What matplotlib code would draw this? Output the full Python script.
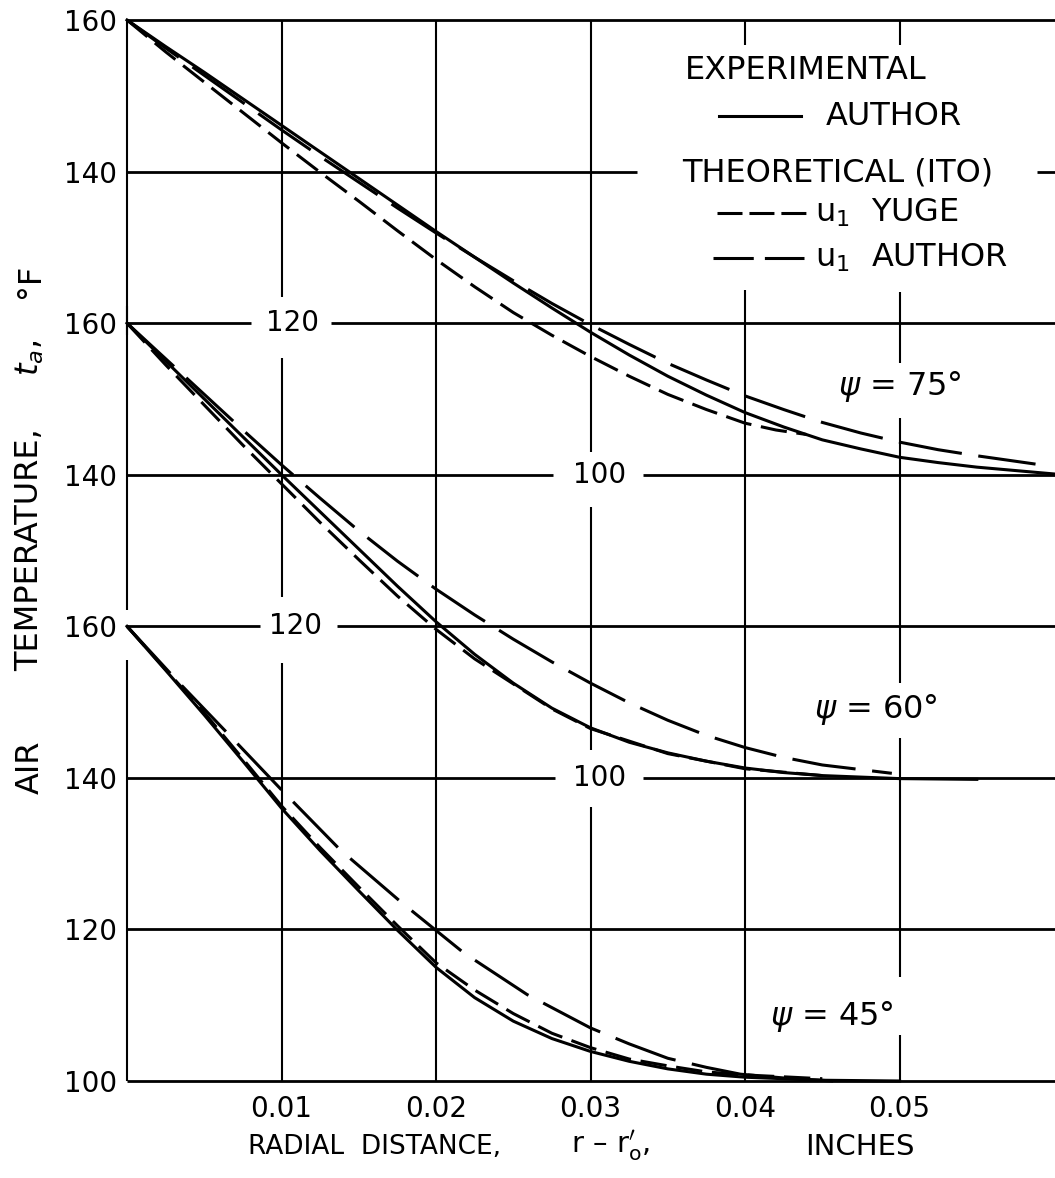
import matplotlib.pyplot as plt

plt.rcParams['font.family'] = 'DejaVu Sans'
plt.rcParams['lines.scale_dashes'] = False

# the three cases share one grid; each is shifted up by 40 F
offsets = {45: 0, 60: 40, 75: 80}

# psi = 75 deg
r75_exp = [0, .0025, .005, .0075, .01, .0125, .015, .0175, .02, .0225, .025, .0275,
           .03, .0325, .035, .0375, .04, .0425, .045, .0475, .05, .0525, .055, .06]
t75_exp = [160, 156.5, 153.1, 149.6, 146.1, 142.6, 139.1, 135.6, 132.1, 128.7, 125.3, 122.0,
           118.8, 115.8, 113.0, 110.5, 108.2, 106.3, 104.6, 103.4, 102.3, 101.6, 101.0, 100.1]
r75_yuge = [0, .0025, .005, .0075, .01, .0125, .015, .0175, .02, .0225, .025, .0275,
            .03, .0325, .035, .0375, .04, .042, .044]
t75_yuge = [160, 155.8, 151.8, 147.8, 143.8, 139.9, 136.1, 132.2, 128.4, 124.8, 121.4, 118.4,
            115.6, 113.0, 110.6, 108.6, 106.8, 105.9, 105.3]
r75_auth = [0, .0025, .005, .0075, .01, .0125, .015, .0175, .02, .0225, .025, .0275,
            .03, .0325, .035, .0375, .04, .0425, .045, .0475, .05, .0525, .055, .0588]
t75_auth = [160, 156.3, 152.7, 149.1, 145.5, 142.0, 138.6, 135.2, 131.9, 128.7, 125.6, 122.6,
            119.8, 117.2, 114.7, 112.5, 110.4, 108.6, 106.9, 105.5, 104.3, 103.3, 102.5, 101.4]

# psi = 60 deg
r60_exp = [0, .0025, .005, .0075, .01, .0125, .015, .0175, .02, .0225, .025, .0275,
           .03, .0325, .035, .0375, .04, .0425, .045, .05, .055]
t60_exp = [160, 155.0, 150.0, 145.0, 140.0, 135.1, 130.2, 125.3, 120.6, 116.3, 112.5, 109.2,
           106.6, 104.7, 103.3, 102.2, 101.3, 100.7, 100.3, 99.9, 99.8]
r60_yuge = [0, .0025, .005, .0075, .01, .0125, .015, .0175, .02, .0225, .025, .0275,
            .03, .035, .04, .045]
t60_yuge = [160, 154.5, 149.2, 143.9, 138.8, 133.7, 128.8, 124.0, 119.6, 115.7, 112.4, 109.1,
            106.5, 103.2, 101.2, 100.3]
r60_auth = [0, .0025, .005, .0075, .01, .0125, .015, .0175, .02, .0225, .025, .0275,
            .03, .0325, .035, .0375, .04, .0425, .045, .0495]
t60_auth = [160, 155.3, 150.6, 145.9, 141.3, 136.9, 132.6, 128.6, 124.9, 121.5, 118.3, 115.3,
            112.5, 109.9, 107.6, 105.6, 104.0, 102.7, 101.7, 100.6]

# psi = 45 deg
r45_exp = [0, .0025, .005, .0075, .01, .0125, .015, .0175, .02, .0225, .025, .0275,
           .03, .0325, .035, .0375, .04, .045, .05]
t45_exp = [160, 154.2, 148.3, 142.2, 136.0, 130.4, 125.1, 119.9, 115.0, 111.0, 107.9, 105.6,
           103.9, 102.6, 101.6, 100.9, 100.5, 100.1, 100.0]
r45_yuge = [0, .0025, .005, .0075, .01, .0125, .015, .0175, .02, .0225, .025, .0275,
            .03, .0325, .035, .0375, .04, .045]
t45_yuge = [160, 154.3, 148.6, 142.5, 136.3, 130.8, 125.6, 120.5, 115.6, 112.0, 108.9, 106.3,
            104.4, 102.9, 102.0, 101.2, 100.8, 100.3]
r45_auth = [0, .0033, .0065, .0101, .0138, .0178, .0218, .0259, .03, .0325, .035, .0375,
            .0397, .0425, .0457]
t45_auth = [160, 152.7, 145.9, 138.2, 130.5, 123.5, 116.9, 111.4, 107.0, 104.9, 103.0, 101.8,
            100.9, 100.4, 100.0]

curves = {
    75: [(r75_exp, t75_exp), (r75_yuge, t75_yuge), (r75_auth, t75_auth)],
    60: [(r60_exp, t60_exp), (r60_yuge, t60_yuge), (r60_auth, t60_auth)],
    45: [(r45_exp, t45_exp), (r45_yuge, t45_yuge), (r45_auth, t45_auth)],
}

ytick_pos = [100, 120, 140, 160, 180, 200, 220, 240]
ytick_lab = ['100', '120', '140', '160', '140', '160', '140', '160']
xtick_pos = [0.01, 0.02, 0.03, 0.04, 0.05]
xtick_lab = ['0.01', '0.02', '0.03', '0.04', '0.05']

SHORT = (0, (19, 7))
LONG = (0, (46, 12))
LW = 2.2
XMAX = 0.06006

fig = plt.figure(figsize=(10.55, 11.78), dpi=100)
ax = fig.add_axes([127 / 1055, 1 - 1081 / 1178, 928 / 1055, 1061 / 1178])
ax.set_xlim(0, XMAX)
ax.set_ylim(100, 240)
for s in ax.spines.values():
    s.set_visible(False)

# hand-drawn grid, broken where labels sit
hlines = [
    (240, [(0, XMAX)]),
    (220, [(0, 0.0330), (0.0589, XMAX)]),
    (200, [(0, 0.0080), (0.0132, XMAX)]),
    (180, [(0, 0.0276), (0.0334, XMAX)]),
    (160, [(0, 0.0086), (0.0136, XMAX)]),
    (140, [(0, 0.0277), (0.0334, XMAX)]),
    (120, [(0, XMAX)]),
    (100, [(0, XMAX)]),
]
vlines = [
    (0.0, [(198.5, 240), (162.2, 202.2), (100, 155.6)]),
    (0.01, [(203.5, 240), (163.9, 195.4), (100, 155.2)]),
    (0.02, [(100, 240)]),
    (0.03, [(183.0, 240), (143.7, 175.7), (100, 136.2)]),
    (0.04, [(236.7, 240), (100, 204.4)]),
    (0.05, [(236.7, 240), (194.7, 204.1), (152.5, 187.5), (113.7, 145.3), (100, 106.1)]),
]
for y, segs in hlines:
    for x0, x1 in segs:
        ax.plot([x0, x1], [y, y], color='black', lw=2.0, clip_on=False,
                solid_capstyle='butt')
for x, segs in vlines:
    for y0, y1 in segs:
        ax.plot([x, x], [y0, y1], color='black', lw=1.5, clip_on=False,
                solid_capstyle='butt')

# labels for the shifted scales
for x, y, s in [(0.0107, 200, '120'), (0.0109, 160, '120'),
                (0.0306, 180, '100'), (0.0306, 140, '100')]:
    ax.text(x, y, s, fontsize=20, ha='center', va='center')

for psi, sets in curves.items():
    off = offsets[psi]
    styles = ['-', SHORT, LONG]
    for (r, t), ls in zip(sets, styles):
        ax.plot(r, [v + off for v in t], color='black', lw=LW, ls=ls,
                dash_capstyle='butt', solid_joinstyle='round', clip_on=False)

ax.text(0.0500, 191.6, '$\\psi$ = 75°', fontsize=23, ha='center', va='center')
ax.text(0.0485, 149.0, '$\\psi$ = 60°', fontsize=23, ha='center', va='center')
ax.text(0.0456, 108.5, '$\\psi$ = 45°', fontsize=23, ha='center', va='center')

# key
ax.text(0.0361, 233.4, 'EXPERIMENTAL', fontsize=23, ha='left', va='center')
ax.plot([0.0383, 0.0436], [227.3, 227.3], color='black', lw=LW)
ax.text(0.0452, 227.3, 'AUTHOR', fontsize=23, ha='left', va='center')
ax.text(0.0359, 219.8, 'THEORETICAL (ITO)', fontsize=23, ha='left', va='center')
ax.plot([0.0382, 0.0440], [214.5, 214.5], color='black', lw=LW, ls=(0, (18, 5)),
        dash_capstyle='butt')
ax.text(0.0445, 214.5, 'u$_1$  YUGE', fontsize=23, ha='left', va='center')
ax.plot([0.0379, 0.0438], [208.6, 208.6], color='black', lw=LW, ls=(0, (29, 8)),
        dash_capstyle='butt')
ax.text(0.0445, 208.6, 'u$_1$  AUTHOR', fontsize=23, ha='left', va='center')

ax.set_yticks(ytick_pos)
ax.set_yticklabels(ytick_lab)
ax.set_xticks(xtick_pos)
ax.set_xticklabels(xtick_lab)
ax.tick_params(axis='both', length=0, labelsize=20)
ax.tick_params(axis='y', pad=7)
ax.tick_params(axis='x', pad=10)

# axis titles, placed word by word
for py, s in [(767, 'AIR'), (550, 'TEMPERATURE,'), (358, '$t_a$,'), (281, '°F')]:
    fig.text(30 / 1055, 1 - py / 1178, s, rotation=90, fontsize=23,
             ha='center', va='center')
for px, s, fs in [(375, 'RADIAL  DISTANCE,', 19),
                  (610, 'r – r$_{\\mathregular{o}}^{\\prime}$,', 21),
                  (860, 'INCHES', 21)]:
    fig.text(px / 1055, 1 - 1147 / 1178, s, fontsize=fs, ha='center', va='center')

fig.savefig('out.png', dpi=100)
